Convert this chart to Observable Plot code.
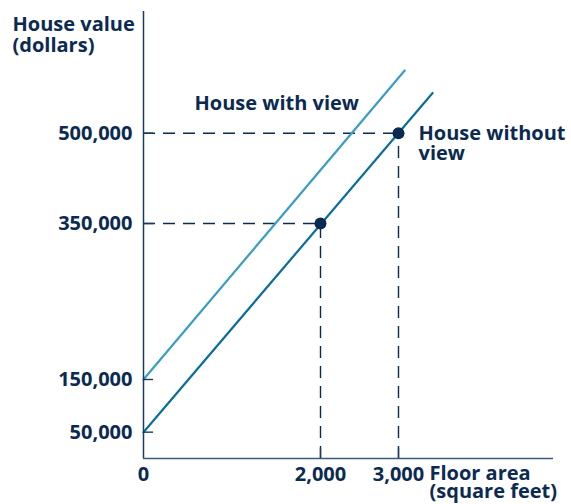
<!DOCTYPE html>
<html>
<head>
<meta charset="utf-8">
<script src="https://cdn.jsdelivr.net/npm/d3@7"></script>
<script src="https://cdn.jsdelivr.net/npm/@observablehq/plot@0.6"></script>
<style>
  html, body { margin: 0; padding: 0; background: #ffffff; }
</style>
</head>
<body>
<div id="chart"></div>
<script>
// ---- Data ----
// House without view: value line through (0, 50,000), (2,000, 350,000), (3,000, 500,000)
const withoutViewArea = [0, 3440];
const withoutViewValue = [50000, 566000];
// House with view: parallel line starting at 150,000
const withViewArea = [0, 3080];
const withViewValue = [150000, 603000];
// Marked points on the "without view" line
const pointArea = [2000, 3000];
const pointValue = [350000, 500000];
// Tick values
const xTicks = [0, 2000, 3000];
const yTicks = [50000, 150000, 350000, 500000];
// Schematic (piecewise) axis breakpoints
const xBreaks = [0, 2000, 3000, 5000];
const yBreaks = [0, 150000, 350000, 500000, 700000];
// Text
const yTitle = "House value\n(dollars)";
const xTitle = "Floor area\n(square feet)";
const withViewLabel = "House with view";
const withoutViewLabel = "House without\nview";
const withViewLabelArea = 576;
const withViewLabelValue = 549000;

// ---- Build tables ----
const withoutLine = withoutViewArea.map((a, i) => ({area: a, value: withoutViewValue[i]}));
const withLine = withViewArea.map((a, i) => ({area: a, value: withViewValue[i]}));
const points = pointArea.map((a, i) => ({area: a, value: pointValue[i]}));

const navy = "#0b2a52";
const axisColor = "#1a3a62";
const xAxisColor = "#3d5a7c";
const darkBlue = "#0a6e9b";
const lightBlue = "#3a9dc3";
const font = "'Open Sans', sans-serif";
const fs = 20;

const chart = Plot.plot({
  width: 571,
  height: 504,
  marginLeft: 143,
  marginRight: 18,
  marginTop: 11,
  marginBottom: 46,
  style: {fontFamily: font, fontSize: fs + "px", color: navy, background: "#ffffff"},
  x: {type: "linear", domain: xBreaks, range: [143, 320, 398, 553], label: null},
  y: {type: "linear", domain: yBreaks, range: [458, 379, 223, 132.7, 11], label: null},
  marks: [
    // dashed guides
    Plot.ruleY(points, {y: "value", x1: 0, x2: "area", stroke: navy, strokeWidth: 1.4, strokeDasharray: "12,8"}),
    Plot.ruleX(points, {x: "area", y1: 0, y2: "value", stroke: navy, strokeWidth: 1.4, strokeDasharray: "12,8"}),
    // value lines
    Plot.line(withLine, {x: "area", y: "value", stroke: lightBlue, strokeWidth: 2.2}),
    Plot.line(withoutLine, {x: "area", y: "value", stroke: darkBlue, strokeWidth: 2.2}),
    // points
    Plot.dot(points, {x: "area", y: "value", r: 6, fill: navy, stroke: "none"}),
    // axis lines
    Plot.ruleX([0], {stroke: axisColor, strokeWidth: 1.5}),
    Plot.ruleY([0], {stroke: xAxisColor, strokeWidth: 1.6}),
    // inward ticks
    Plot.axisY(yTicks, {tickSize: 10, dx: 10, stroke: axisColor, strokeWidth: 1.4, fill: "none", label: null}),
    Plot.axisX(pointArea, {tickSize: 10, dy: -10, stroke: axisColor, strokeWidth: 1.4, fill: "none", label: null}),
    // tick labels
    Plot.axisY(yTicks, {tickSize: 0, tickPadding: 11, tickFormat: d3.format(","), fill: navy, fontSize: fs, fontWeight: "bold", label: null}),
    Plot.axisX(xTicks, {tickSize: 0, tickPadding: 8, tickFormat: d3.format(","), fill: navy, fontSize: fs, fontWeight: "bold", label: null}),
    // axis titles
    Plot.text([yTitle], {frameAnchor: "top-left", textAnchor: "start", lineAnchor: "top", dx: -131, dy: 4, lineHeight: 1.06, fill: navy, fontSize: fs, fontWeight: "bold"}),
    Plot.text([xTitle], {frameAnchor: "bottom-left", textAnchor: "start", lineAnchor: "top", dx: 286, dy: 8, lineHeight: 0.92, fill: navy, fontSize: fs, fontWeight: "bold"}),
    // series labels
    Plot.text([withViewLabel], {x: [withViewLabelArea], y: [withViewLabelValue], textAnchor: "start", lineAnchor: "middle", fill: navy, fontSize: fs, fontWeight: "bold"}),
    Plot.text([withoutViewLabel], {x: [pointArea[1]], y: [pointValue[1]], dx: 20, dy: -7.5, textAnchor: "start", lineAnchor: "top", lineHeight: 1.0, fill: navy, fontSize: fs, fontWeight: "bold"})
  ]
});
document.getElementById("chart").append(chart);
</script>
</body>
</html>
